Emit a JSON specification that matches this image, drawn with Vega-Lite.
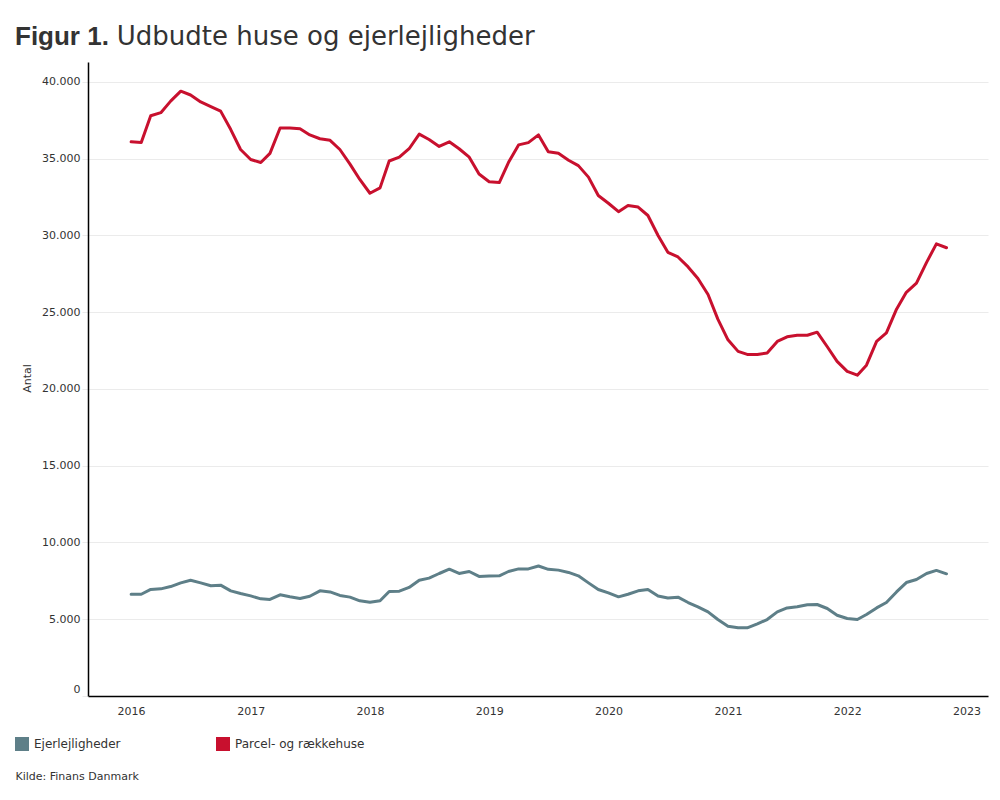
{
  "$schema": "https://vega.github.io/schema/vega-lite/v6.json",
  "autosize": {"type": "none"},
  "padding": {"left": 88, "top": 62, "right": 12, "bottom": 104},
  "width": 900,
  "height": 634,
  "background": "white",
  "title": {
    "text": "Figur 1.",
    "subtitle": "\u200b\u00a0\u00a0\u00a0\u00a0\u00a0\u00a0\u00a0\u00a0\u00a0\u00a0\u00a0\u00a0\u200aUdbudte huse og ejerlejligheder",
    "anchor": "start",
    "frame": "group",
    "dx": -73,
    "offset": 12,
    "font": "Liberation Sans",
    "fontSize": 26,
    "fontWeight": "bold",
    "color": "#333333",
    "subtitleFont": "DejaVu Sans",
    "subtitleFontSize": 26,
    "subtitleFontWeight": "normal",
    "subtitleColor": "#333333",
    "subtitlePadding": -26
  },
  "data": {
    "values": [
      {"date": "2016-01-01", "Ejerlejligheder": 6630, "Parcel- og rækkehuse": 36100},
      {"date": "2016-02-01", "Ejerlejligheder": 6630, "Parcel- og rækkehuse": 36050},
      {"date": "2016-03-01", "Ejerlejligheder": 6940, "Parcel- og rækkehuse": 37800},
      {"date": "2016-04-01", "Ejerlejligheder": 6980, "Parcel- og rækkehuse": 38000},
      {"date": "2016-05-01", "Ejerlejligheder": 7130, "Parcel- og rækkehuse": 38750},
      {"date": "2016-06-01", "Ejerlejligheder": 7370, "Parcel- og rækkehuse": 39400},
      {"date": "2016-07-01", "Ejerlejligheder": 7540, "Parcel- og rækkehuse": 39150},
      {"date": "2016-08-01", "Ejerlejligheder": 7370, "Parcel- og rækkehuse": 38700},
      {"date": "2016-09-01", "Ejerlejligheder": 7180, "Parcel- og rækkehuse": 38400},
      {"date": "2016-10-01", "Ejerlejligheder": 7220, "Parcel- og rækkehuse": 38100},
      {"date": "2016-11-01", "Ejerlejligheder": 6850, "Parcel- og rækkehuse": 36900},
      {"date": "2016-12-01", "Ejerlejligheder": 6680, "Parcel- og rækkehuse": 35600},
      {"date": "2017-01-01", "Ejerlejligheder": 6520, "Parcel- og rækkehuse": 34950},
      {"date": "2017-02-01", "Ejerlejligheder": 6330, "Parcel- og rækkehuse": 34750},
      {"date": "2017-03-01", "Ejerlejligheder": 6290, "Parcel- og rækkehuse": 35350},
      {"date": "2017-04-01", "Ejerlejligheder": 6590, "Parcel- og rækkehuse": 37000},
      {"date": "2017-05-01", "Ejerlejligheder": 6460, "Parcel- og rækkehuse": 37000},
      {"date": "2017-06-01", "Ejerlejligheder": 6350, "Parcel- og rækkehuse": 36950},
      {"date": "2017-07-01", "Ejerlejligheder": 6500, "Parcel- og rækkehuse": 36550},
      {"date": "2017-08-01", "Ejerlejligheder": 6850, "Parcel- og rækkehuse": 36300},
      {"date": "2017-09-01", "Ejerlejligheder": 6780, "Parcel- og rækkehuse": 36200},
      {"date": "2017-10-01", "Ejerlejligheder": 6550, "Parcel- og rækkehuse": 35600},
      {"date": "2017-11-01", "Ejerlejligheder": 6440, "Parcel- og rækkehuse": 34650},
      {"date": "2017-12-01", "Ejerlejligheder": 6200, "Parcel- og rækkehuse": 33650},
      {"date": "2018-01-01", "Ejerlejligheder": 6110, "Parcel- og rækkehuse": 32750},
      {"date": "2018-02-01", "Ejerlejligheder": 6200, "Parcel- og rækkehuse": 33100},
      {"date": "2018-03-01", "Ejerlejligheder": 6810, "Parcel- og rækkehuse": 34850},
      {"date": "2018-04-01", "Ejerlejligheder": 6830, "Parcel- og rækkehuse": 35100},
      {"date": "2018-05-01", "Ejerlejligheder": 7070, "Parcel- og rækkehuse": 35650},
      {"date": "2018-06-01", "Ejerlejligheder": 7540, "Parcel- og rækkehuse": 36600},
      {"date": "2018-07-01", "Ejerlejligheder": 7680, "Parcel- og rækkehuse": 36250},
      {"date": "2018-08-01", "Ejerlejligheder": 7980, "Parcel- og rækkehuse": 35800},
      {"date": "2018-09-01", "Ejerlejligheder": 8260, "Parcel- og rækkehuse": 36100},
      {"date": "2018-10-01", "Ejerlejligheder": 7980, "Parcel- og rækkehuse": 35650},
      {"date": "2018-11-01", "Ejerlejligheder": 8110, "Parcel- og rækkehuse": 35100},
      {"date": "2018-12-01", "Ejerlejligheder": 7790, "Parcel- og rækkehuse": 34000},
      {"date": "2019-01-01", "Ejerlejligheder": 7810, "Parcel- og rækkehuse": 33500},
      {"date": "2019-02-01", "Ejerlejligheder": 7830, "Parcel- og rækkehuse": 33450},
      {"date": "2019-03-01", "Ejerlejligheder": 8110, "Parcel- og rækkehuse": 34750},
      {"date": "2019-04-01", "Ejerlejligheder": 8280, "Parcel- og rækkehuse": 35900},
      {"date": "2019-05-01", "Ejerlejligheder": 8280, "Parcel- og rækkehuse": 36050},
      {"date": "2019-06-01", "Ejerlejligheder": 8470, "Parcel- og rækkehuse": 36550},
      {"date": "2019-07-01", "Ejerlejligheder": 8250, "Parcel- og rækkehuse": 35450},
      {"date": "2019-08-01", "Ejerlejligheder": 8200, "Parcel- og rækkehuse": 35350},
      {"date": "2019-09-01", "Ejerlejligheder": 8050, "Parcel- og rækkehuse": 34900},
      {"date": "2019-10-01", "Ejerlejligheder": 7830, "Parcel- og rækkehuse": 34550},
      {"date": "2019-11-01", "Ejerlejligheder": 7370, "Parcel- og rækkehuse": 33800},
      {"date": "2019-12-01", "Ejerlejligheder": 6940, "Parcel- og rækkehuse": 32600},
      {"date": "2020-01-01", "Ejerlejligheder": 6720, "Parcel- og rækkehuse": 32100},
      {"date": "2020-02-01", "Ejerlejligheder": 6460, "Parcel- og rækkehuse": 31550},
      {"date": "2020-03-01", "Ejerlejligheder": 6630, "Parcel- og rækkehuse": 31950},
      {"date": "2020-04-01", "Ejerlejligheder": 6850, "Parcel- og rækkehuse": 31850},
      {"date": "2020-05-01", "Ejerlejligheder": 6940, "Parcel- og rækkehuse": 31300},
      {"date": "2020-06-01", "Ejerlejligheder": 6520, "Parcel- og rækkehuse": 30000},
      {"date": "2020-07-01", "Ejerlejligheder": 6390, "Parcel- og rækkehuse": 28900},
      {"date": "2020-08-01", "Ejerlejligheder": 6440, "Parcel- og rækkehuse": 28600},
      {"date": "2020-09-01", "Ejerlejligheder": 6090, "Parcel- og rækkehuse": 27950},
      {"date": "2020-10-01", "Ejerlejligheder": 5810, "Parcel- og rækkehuse": 27200},
      {"date": "2020-11-01", "Ejerlejligheder": 5480, "Parcel- og rækkehuse": 26150},
      {"date": "2020-12-01", "Ejerlejligheder": 4980, "Parcel- og rækkehuse": 24550},
      {"date": "2021-01-01", "Ejerlejligheder": 4550, "Parcel- og rækkehuse": 23200},
      {"date": "2021-02-01", "Ejerlejligheder": 4440, "Parcel- og rækkehuse": 22450},
      {"date": "2021-03-01", "Ejerlejligheder": 4440, "Parcel- og rækkehuse": 22250},
      {"date": "2021-04-01", "Ejerlejligheder": 4700, "Parcel- og rækkehuse": 22250},
      {"date": "2021-05-01", "Ejerlejligheder": 4980, "Parcel- og rækkehuse": 22350},
      {"date": "2021-06-01", "Ejerlejligheder": 5480, "Parcel- og rækkehuse": 23100},
      {"date": "2021-07-01", "Ejerlejligheder": 5740, "Parcel- og rækkehuse": 23400},
      {"date": "2021-08-01", "Ejerlejligheder": 5810, "Parcel- og rækkehuse": 23500},
      {"date": "2021-09-01", "Ejerlejligheder": 5940, "Parcel- og rækkehuse": 23500},
      {"date": "2021-10-01", "Ejerlejligheder": 5960, "Parcel- og rækkehuse": 23700},
      {"date": "2021-11-01", "Ejerlejligheder": 5700, "Parcel- og rækkehuse": 22750},
      {"date": "2021-12-01", "Ejerlejligheder": 5260, "Parcel- og rækkehuse": 21800},
      {"date": "2022-01-01", "Ejerlejligheder": 5050, "Parcel- og rækkehuse": 21150},
      {"date": "2022-02-01", "Ejerlejligheder": 4980, "Parcel- og rækkehuse": 20900},
      {"date": "2022-03-01", "Ejerlejligheder": 5310, "Parcel- og rækkehuse": 21550},
      {"date": "2022-04-01", "Ejerlejligheder": 5740, "Parcel- og rækkehuse": 23100},
      {"date": "2022-05-01", "Ejerlejligheder": 6090, "Parcel- og rækkehuse": 23650},
      {"date": "2022-06-01", "Ejerlejligheder": 6780, "Parcel- og rækkehuse": 25200},
      {"date": "2022-07-01", "Ejerlejligheder": 7390, "Parcel- og rækkehuse": 26300},
      {"date": "2022-08-01", "Ejerlejligheder": 7590, "Parcel- og rækkehuse": 26900},
      {"date": "2022-09-01", "Ejerlejligheder": 7980, "Parcel- og rækkehuse": 28250},
      {"date": "2022-10-01", "Ejerlejligheder": 8180, "Parcel- og rækkehuse": 29450},
      {"date": "2022-11-01", "Ejerlejligheder": 7960, "Parcel- og rækkehuse": 29200}
    ]
  },
  "transform": [
    {"fold": ["Ejerlejligheder", "Parcel- og rækkehuse"], "as": ["serie", "antal"]}
  ],
  "mark": {"type": "line", "strokeWidth": 3, "strokeJoin": "round", "strokeCap": "round"},
  "encoding": {
    "x": {
      "field": "date",
      "type": "temporal",
      "scale": {"domain": ["2015-08-22", "2023-03-08"]},
      "axis": {
        "values": [
          {"year": 2016, "month": 1, "date": 1},
          {"year": 2017, "month": 1, "date": 1},
          {"year": 2018, "month": 1, "date": 1},
          {"year": 2019, "month": 1, "date": 1},
          {"year": 2020, "month": 1, "date": 1},
          {"year": 2021, "month": 1, "date": 1},
          {"year": 2022, "month": 1, "date": 1},
          {"year": 2023, "month": 1, "date": 1}
        ],
        "format": "%Y",
        "grid": false,
        "ticks": false,
        "labelPadding": 9,
        "labelFont": "DejaVu Sans",
        "labelFontSize": 11,
        "labelColor": "#333333",
        "domainColor": "#000000",
        "domainWidth": 1.5,
        "title": "Kilde: Finans Danmark",
        "titleX": -73,
        "titleY": 80,
        "titleAlign": "left",
        "titleAnchor": "start",
        "titleBaseline": "middle",
        "titleFont": "DejaVu Sans",
        "titleFontSize": 11,
        "titleFontWeight": "normal",
        "titleColor": "#333333"
      }
    },
    "y": {
      "field": "antal",
      "type": "quantitative",
      "scale": {"domain": [0, 41300], "nice": false, "zero": true},
      "axis": {
        "values": [0, 5000, 10000, 15000, 20000, 25000, 30000, 35000, 40000],
        "labelExpr": "replace(format(datum.value, ','), ',', '.')",
        "labelOffset": {"condition": {"test": "datum.value === 0", "value": -7}, "value": 0},
        "grid": true,
        "gridColor": "#ebebeb",
        "gridWidth": 1,
        "ticks": true,
        "tickSize": 6,
        "tickColor": "#ebebeb",
        "labelPadding": 2,
        "labelFont": "DejaVu Sans",
        "labelFontSize": 11,
        "labelColor": "#333333",
        "domainColor": "#000000",
        "domainWidth": 1.5,
        "title": "Antal",
        "titleX": -61,
        "titleY": 316,
        "titleAlign": "center",
        "titleBaseline": "middle",
        "titleAngle": -90,
        "titleFont": "DejaVu Sans",
        "titleFontSize": 11,
        "titleFontWeight": "normal",
        "titleColor": "#333333"
      }
    },
    "color": {
      "field": "serie",
      "type": "nominal",
      "scale": {"domain": ["Ejerlejligheder", "Parcel- og rækkehuse"], "range": ["#5e7f88", "#c8102e"]},
      "legend": {
        "title": null,
        "orient": "none",
        "legendX": -73,
        "legendY": 675,
        "direction": "horizontal",
        "symbolType": "square",
        "symbolSize": 196,
        "symbolStrokeWidth": 0,
        "symbolOpacity": 1,
        "labelFont": "DejaVu Sans",
        "labelFontSize": 12,
        "labelColor": "#333333",
        "labelOffset": 5,
        "columnPadding": 95,
        "encode": {
          "symbols": {
            "update": {
              "fill": {"scale": "color", "field": "value"},
              "strokeWidth": {"value": 0}
            }
          }
        }
      }
    }
  },
  "config": {
    "view": {"stroke": null}
  }
}
